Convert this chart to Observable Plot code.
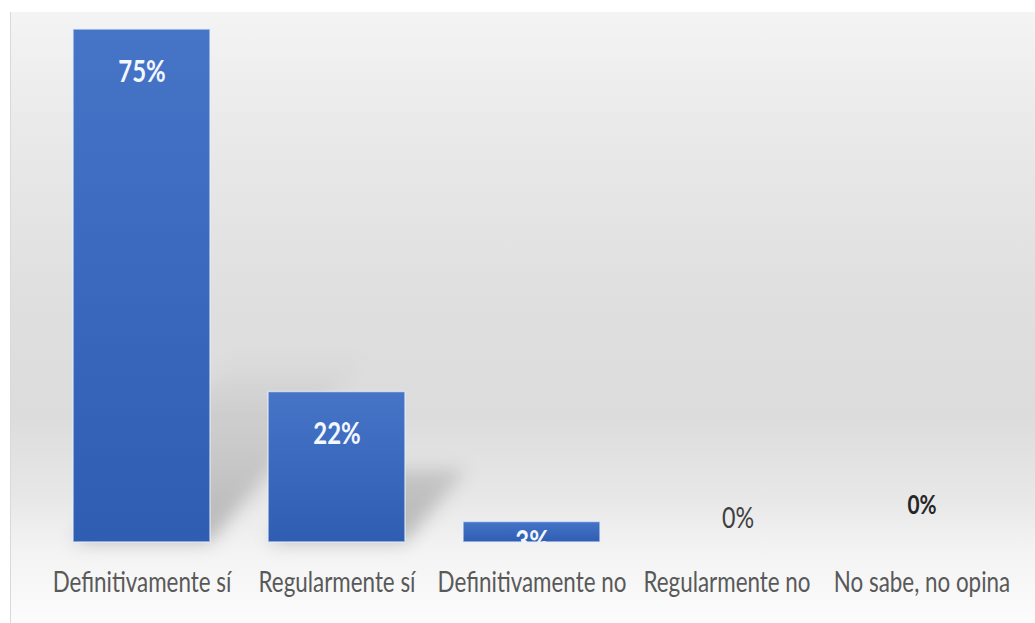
<!DOCTYPE html>
<html>
<head>
<meta charset="utf-8">
<script src="https://cdn.jsdelivr.net/npm/d3@7"></script>
<script src="https://cdn.jsdelivr.net/npm/@observablehq/plot@0.6"></script>
<style>
  html, body { margin: 0; padding: 0; background: #ffffff; }
  #chart svg { display: block; }
</style>
</head>
<body>
<div id="chart"></div>
<script>
// ---- data ----
const categories = ["Definitivamente sí", "Regularmente sí", "Definitivamente no", "Regularmente no", "No sabe, no opina"];
const values = [75, 22, 3, 0, 0];
const valueLabels = ["75%", "22%", "3%", "0%", "0%"];

const data = categories.map((c, i) => ({ category: c, value: values[i], label: valueLabels[i] }));
const big = data.filter(d => d.value >= 10);
const small = data.filter(d => d.value > 0 && d.value < 10);
const zeros = data.filter(d => d.value === 0);

const W = 1035, H = 623;
const FONT = "Lato, 'Liberation Sans', Arial, sans-serif";

const svg = Plot.plot({
  width: W,
  height: H,
  marginTop: 29,
  marginBottom: 81,
  marginLeft: 42.7,
  marginRight: 16,
  style: { fontFamily: FONT, color: "#595959", background: "transparent" },
  x: { domain: categories, paddingInner: 0.3, paddingOuter: 0.15, label: null },
  y: { domain: [0, 75], axis: null, label: null },
  marks: [
    // shadow shapes (reshaped after render)
    Plot.barY(data.filter(d => d.value >= 10), { x: "category", y: "value", fill: "url(#shadowGrad)" }),
    Plot.barY(data, { x: "category", y: "value", fill: "url(#barGrad)", stroke: "#e8eef9", strokeWidth: 1.5, strokeOpacity: 0.7 }),
    Plot.text(big, { x: "category", y: "value", text: "label", lineAnchor: "top", dy: 31, fill: "#f3f7ff", fontSize: 30, fontWeight: "bold" }),
    Plot.text(small, { x: "category", y: "value", text: "label", lineAnchor: "top", dy: 9, fill: "#f3f7ff", fontSize: 30, fontWeight: "bold", clip: true }),
    Plot.text(zeros.slice(0, 1), { x: "category", y: "value", text: "label", lineAnchor: "top", dy: -35, dx: 11, fill: "#404040", fontSize: 29 }),
    Plot.text(zeros.slice(1), { x: "category", y: "value", text: "label", lineAnchor: "top", dy: -47, fill: "#262626", fontSize: 26, fontWeight: "bold" }),
    Plot.axisX({ tickSize: 0, tickPadding: 30, fontSize: 28, label: null })
  ]
});

document.getElementById("chart").appendChild(svg);

// ---- decoration: gradients, background, border, shadow shapes, condensed text ----
const root = d3.select(svg);
const defs = root.insert("defs", ":first-child");

const bg = defs.append("linearGradient").attr("id", "bgGrad").attr("x1", 0).attr("y1", 0).attr("x2", 0).attr("y2", 1);
[[0, "#f4f4f4"], [0.18, "#eaeaea"], [0.47, "#dfdfdf"], [0.66, "#dcdcdc"], [0.8, "#e8e8e8"], [0.88, "#f3f3f3"], [1, "#fcfcfc"]]
  .forEach(([o, c]) => bg.append("stop").attr("offset", o).attr("stop-color", c));

const bar = defs.append("linearGradient").attr("id", "barGrad").attr("x1", 0).attr("y1", 0).attr("x2", 0).attr("y2", 1);
bar.append("stop").attr("offset", 0).attr("stop-color", "#4674c7");
bar.append("stop").attr("offset", 1).attr("stop-color", "#2f5db2");

const blur = defs.append("filter").attr("id", "shadowBlur").attr("x", "-30%").attr("y", "-30%").attr("width", "160%").attr("height", "160%");
blur.append("feGaussianBlur").attr("stdDeviation", 9);

// background panel + left border
const bgRect = svg.ownerDocument.createElementNS("http://www.w3.org/2000/svg", "rect");
svg.insertBefore(bgRect, defs.node().nextSibling);
d3.select(bgRect)
  .attr("x", 10).attr("y", 12).attr("width", W - 10).attr("height", H - 12)
  .attr("fill", "url(#bgGrad)");
const border = svg.ownerDocument.createElementNS("http://www.w3.org/2000/svg", "line");
svg.insertBefore(border, bgRect.nextSibling);
d3.select(border)
  .attr("x1", 10.5).attr("x2", 10.5).attr("y1", 12).attr("y2", H)
  .attr("stroke", "#d9d9d9").attr("stroke-width", 1);

// shadows: turn shadow rects into sheared, blurred polygons
const shadowRects = Array.from(svg.querySelectorAll("rect")).filter(r => {
  const own = r.getAttribute("fill");
  const par = r.parentNode && r.parentNode.getAttribute && r.parentNode.getAttribute("fill");
  return own === "url(#shadowGrad)" || par === "url(#shadowGrad)";
});
let baseY = H - 81;
shadowRects.forEach(el => { baseY = +el.getAttribute("y") + +el.getAttribute("height"); });
const sh = defs.append("linearGradient").attr("id", "shadowGrad")
  .attr("gradientUnits", "userSpaceOnUse")
  .attr("x1", 0).attr("x2", 0).attr("y1", baseY - 190).attr("y2", baseY);
sh.append("stop").attr("offset", 0).attr("stop-color", "#000").attr("stop-opacity", 0);
sh.append("stop").attr("offset", 0.5).attr("stop-color", "#000").attr("stop-opacity", 0.1);
sh.append("stop").attr("offset", 1).attr("stop-color", "#000").attr("stop-opacity", 0.24);

shadowRects.forEach(function (el) {
  const r = d3.select(el);
  const x = +r.attr("x"), y = +r.attr("y"), w = +r.attr("width"), h = +r.attr("height");
  const y0 = y + h;
  const Hs = 0.35 * h + 20;
  const k = 0.85;
  const dx = k * Hs;
  const pts = [[x, y0], [x + w, y0], [x + w + dx, y0 - Hs], [x + dx, y0 - Hs]];
  d3.select(el.parentNode).append("polygon")
    .attr("points", pts.map(p => p.join(",")).join(" "))
    .attr("fill", "url(#shadowGrad)")
    .attr("filter", "url(#shadowBlur)");
  el.remove();
});

// condensed text look
root.selectAll("text").each(function () {
  const t = this.getAttribute("transform");
  if (t) {
    this.setAttribute("transform", t + " scale(0.8,1)");
  } else {
    const x = +(this.getAttribute("x") || 0), y = +(this.getAttribute("y") || 0);
    this.setAttribute("transform", `translate(${x},${y}) scale(0.8,1) translate(${-x},${-y})`);
  }
});
</script>
</body>
</html>
